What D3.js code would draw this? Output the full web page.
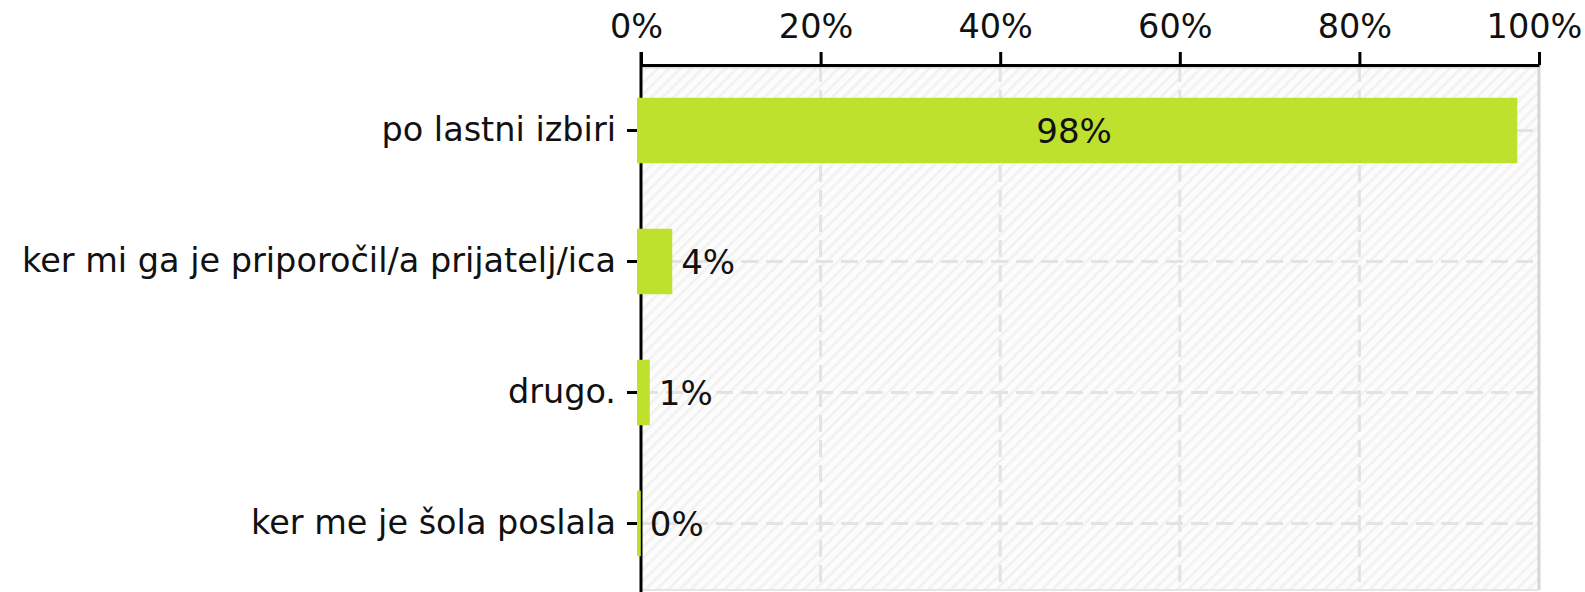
<!DOCTYPE html>
<html>
<head>
<meta charset="utf-8">
<script src="https://cdn.jsdelivr.net/npm/d3@7"></script>
<style>
  html, body { margin: 0; padding: 0; background: #fff; }
  svg { display: block; }
  text { font-family: "DejaVu Sans", Verdana, sans-serif; fill: #111; }
</style>
</head>
<body>
<svg id="chart" width="1585" height="592"></svg>
<script>
const categories = ["po lastni izbiri", "ker mi ga je priporočil/a prijatelj/ica", "drugo.", "ker me je šola poslala"];
const values = [97.8, 3.7, 1.2, 0.2];
const tickValues = [0, 20, 40, 60, 80, 100];
const tickLabels = ["0%", "20%", "40%", "60%", "80%", "100%"];

(function () {
const svg = d3.select("#chart");
const W = 1585, H = 592;
const pLeft = 641, pRight = 1539, pTop = 65, pBottom = 589;
const catFont = 33.5, tickFont = 33.5, valFont = 34;

const x = d3.scaleLinear().domain([0, 100]).range([pLeft, pRight]);
const y = d3.scaleBand().domain(categories).range([pTop, pBottom]).paddingInner(0.5).paddingOuter(0.25);

// hatch pattern
const defs = svg.append("defs");
const pat = defs.append("pattern").attr("id", "hatch").attr("patternUnits", "userSpaceOnUse")
  .attr("width", 8).attr("height", 8).attr("patternTransform", "rotate(45)");
pat.append("rect").attr("width", 8).attr("height", 8).attr("fill", "#fcfcfc");
pat.append("rect").attr("x", 0).attr("y", 0).attr("width", 2.5).attr("height", 8).attr("fill", "#f1f1f1");

svg.append("rect").attr("x", pLeft).attr("y", pTop).attr("width", pRight - pLeft).attr("height", pBottom - pTop)
  .attr("fill", "url(#hatch)");

// vertical grid
svg.append("g").selectAll("line").data(tickValues.filter(d => d > 0 && d < 100)).join("line")
  .attr("x1", d => x(d)).attr("x2", d => x(d)).attr("y1", pTop).attr("y2", pBottom)
  .attr("stroke", "#e3e3e3").attr("stroke-width", 3).attr("stroke-dasharray", "17,8");

// horizontal grid at category centres
svg.append("g").selectAll("line").data(categories).join("line")
  .attr("x1", pLeft).attr("x2", pRight)
  .attr("y1", d => y(d) + y.bandwidth() / 2).attr("y2", d => y(d) + y.bandwidth() / 2)
  .attr("stroke", "#e3e3e3").attr("stroke-width", 3).attr("stroke-dasharray", "17,8");

// right & bottom border
svg.append("line").attr("x1", pRight).attr("x2", pRight).attr("y1", pTop).attr("y2", pBottom + 1)
  .attr("stroke", "#d6d6d6").attr("stroke-width", 3);
svg.append("line").attr("x1", pLeft).attr("x2", pRight).attr("y1", pBottom + 1).attr("y2", pBottom + 1)
  .attr("stroke", "#e6e6e6").attr("stroke-width", 2);

svg.append("line").attr("x1", pLeft).attr("x2", pRight).attr("y1", pTop + 2.5).attr("y2", pTop + 2.5)
  .attr("stroke", "#dcdcdc").attr("stroke-width", 2);

// top axis
const xAxis = d3.axisTop(x).tickValues(tickValues).tickFormat((d, i) => tickLabels[i]).tickSize(13).tickSizeOuter(0);
const gx = svg.append("g").attr("transform", `translate(0,${pTop})`).call(xAxis);
gx.select(".domain").attr("stroke", "#000").attr("stroke-width", 3);
gx.selectAll(".tick line").attr("stroke", "#000").attr("stroke-width", 3);
gx.selectAll(".tick text").attr("font-family", "DejaVu Sans, Verdana, sans-serif").attr("font-size", tickFont)
  .attr("fill", "#111").attr("dx", -5).attr("y", -27);

// left axis
const yAxis = d3.axisLeft(y).tickSize(14).tickSizeOuter(0).tickPadding(11);
const gy = svg.append("g").attr("transform", `translate(${pLeft},0)`).call(yAxis);
gy.select(".domain").attr("stroke", "#000").attr("stroke-width", 3).attr("d", `M0,${pTop - 13}V${H}`);
gy.selectAll(".tick line").attr("stroke", "#000").attr("stroke-width", 3);
gy.selectAll(".tick text").attr("font-family", "DejaVu Sans, Verdana, sans-serif").attr("font-size", catFont)
  .attr("fill", "#111");

// bars
const data = categories.map((c, i) => ({ c, v: values[i] }));
svg.append("g").selectAll("rect").data(data).join("rect")
  .attr("x", x(0) - 4).attr("y", d => y(d.c))
  .attr("width", d => x(d.v) - x(0) + 2).attr("height", y.bandwidth())
  .attr("fill", "#bde12d");

// value labels
svg.append("g").selectAll("text").data(data).join("text")
  .attr("x", d => d.v > 50 ? (x(0) - 4 + x(d.v)) / 2 - 4 : x(d.v) + 7)
  .attr("y", d => y(d.c) + y.bandwidth() / 2)
  .attr("dy", "0.36em")
  .attr("text-anchor", d => d.v > 50 ? "middle" : "start")
  .attr("font-size", valFont)
  .text(d => Math.round(d.v) + "%");
})();
</script>
</body>
</html>
